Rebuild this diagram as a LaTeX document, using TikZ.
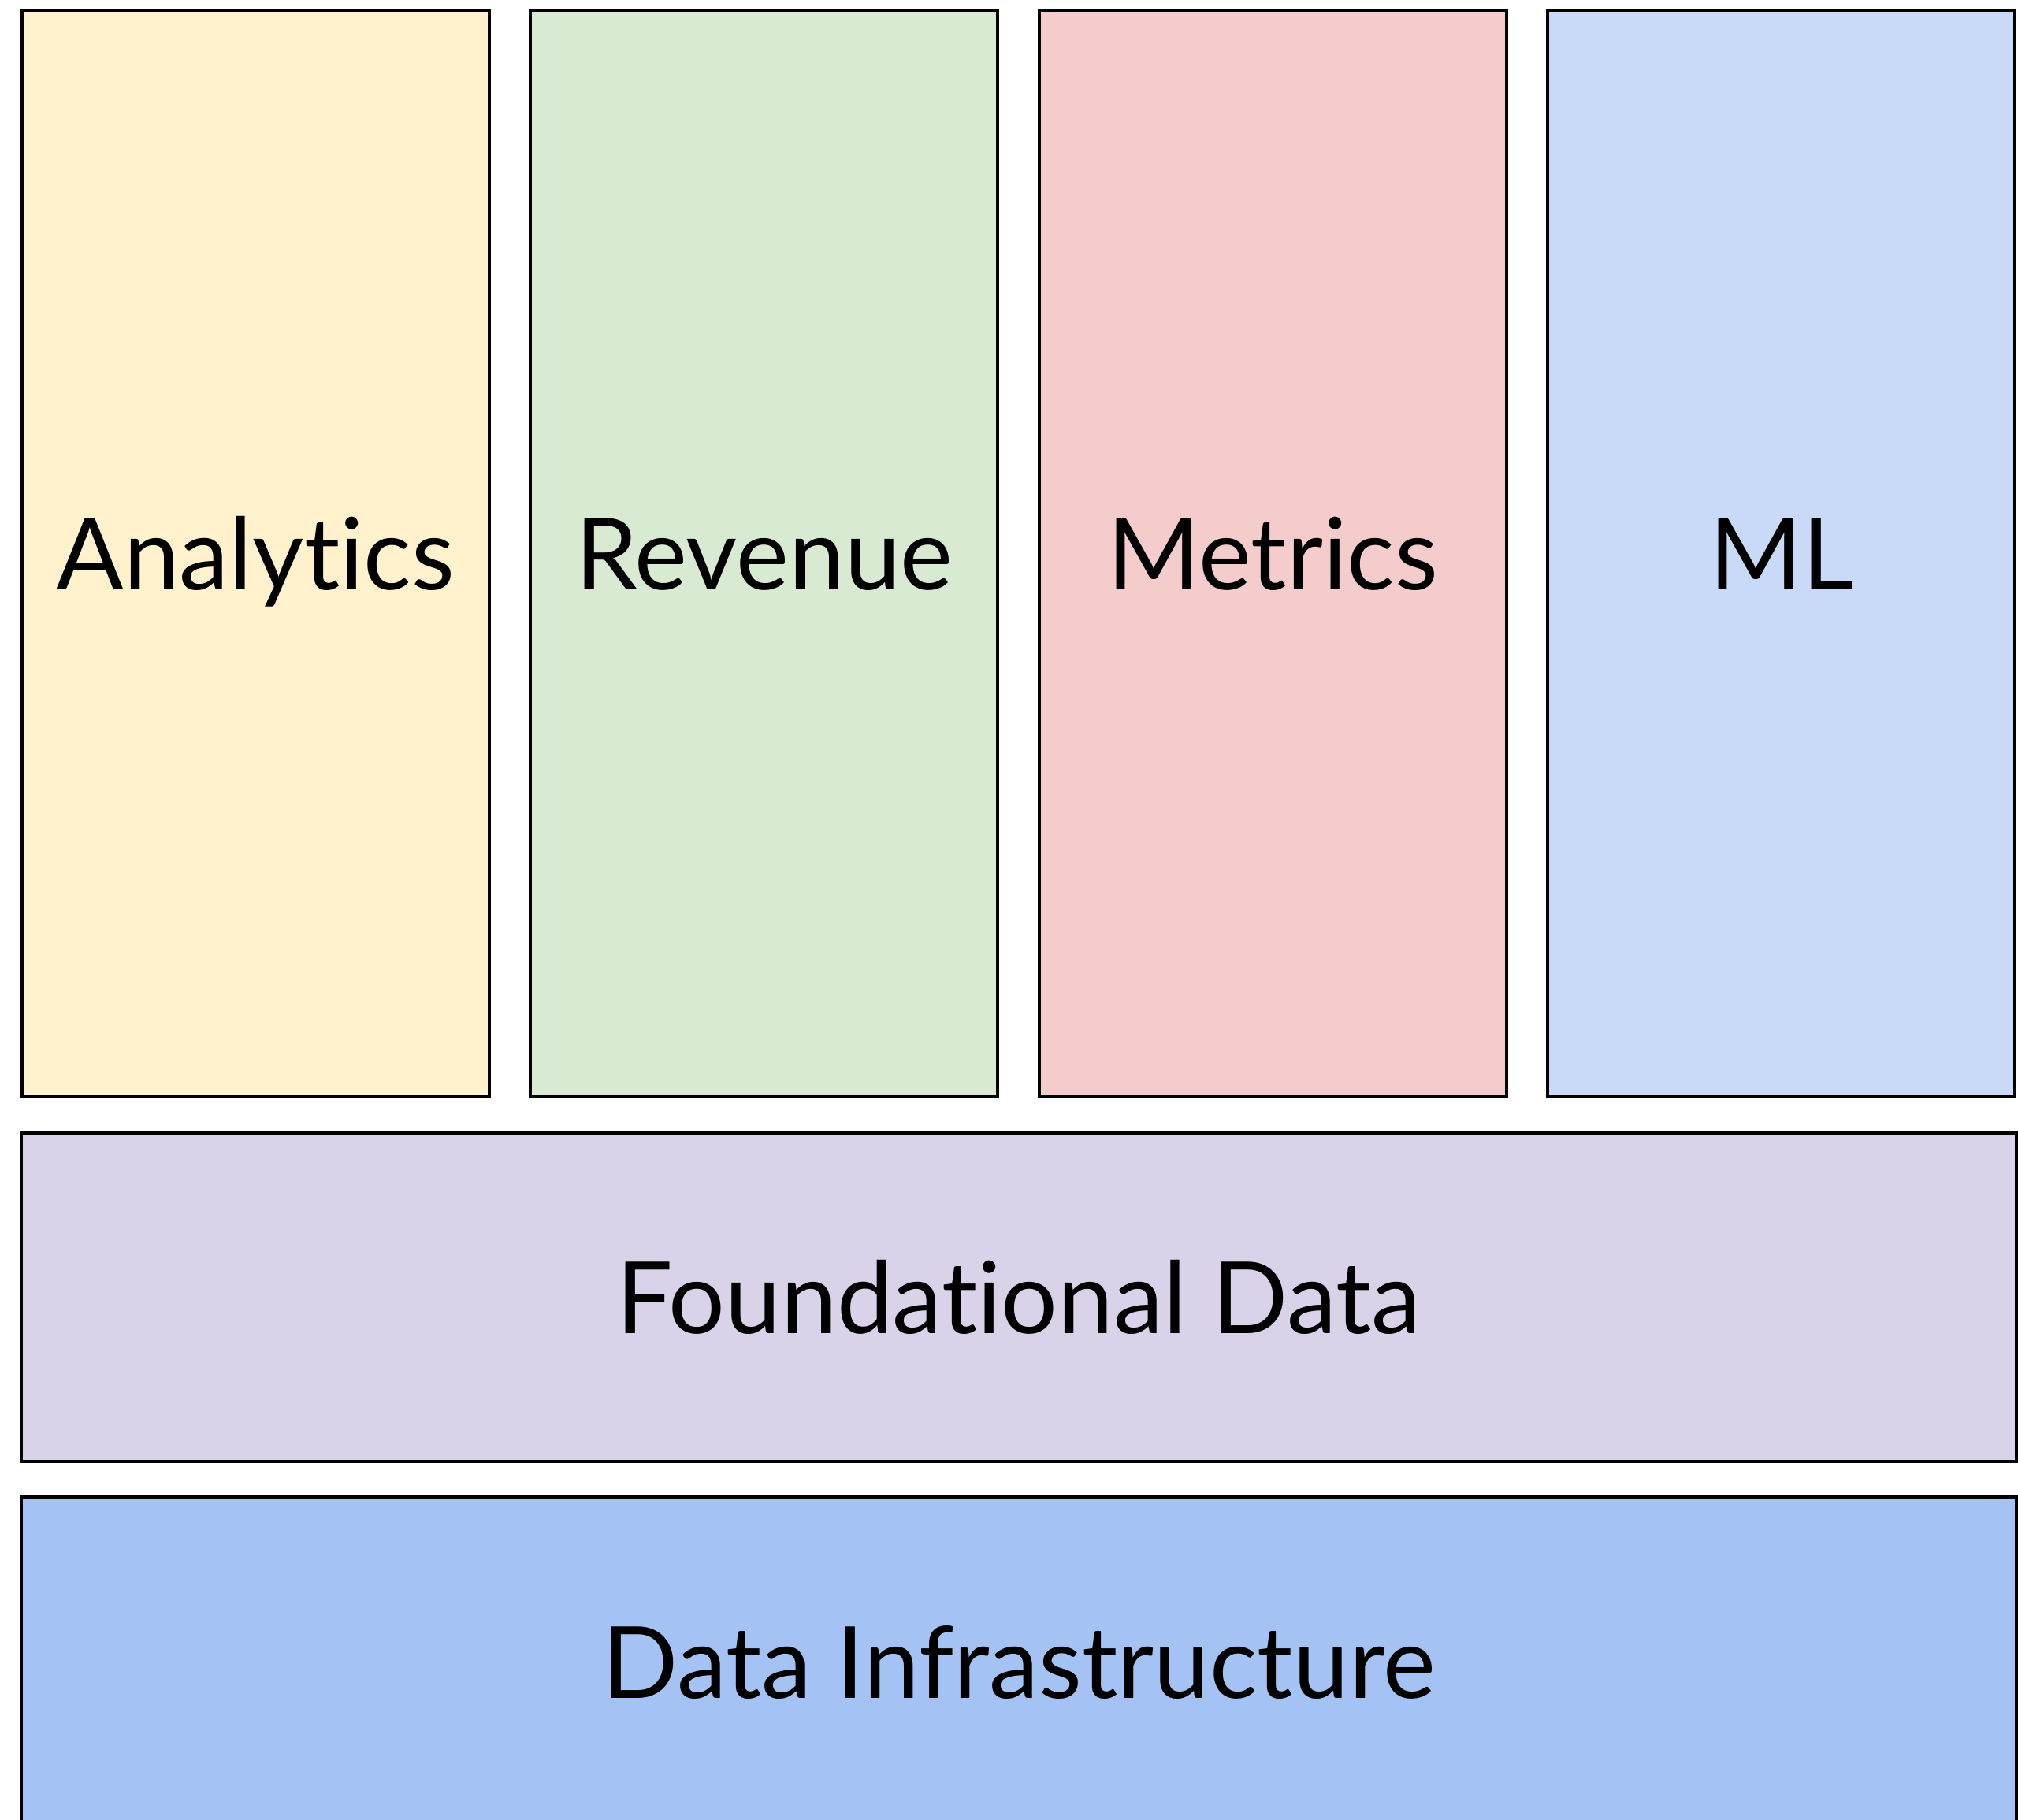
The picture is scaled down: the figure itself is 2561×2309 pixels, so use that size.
\documentclass[tikz,border=0pt]{standalone}
\usepackage{fontspec}
\setmainfont{Lato}[Ligatures=NoCommon]
\usetikzlibrary{positioning}

\definecolor{analyticsYellow}{HTML}{FFF2CC}
\definecolor{revenueGreen}{HTML}{D9EAD3}
\definecolor{metricsRed}{HTML}{F4CCCC}
\definecolor{mlBlue}{HTML}{C9DAF8}
\definecolor{foundPurple}{HTML}{D9D2E9}
\definecolor{infraBlue}{HTML}{A4C2F4}

\tikzset{
  layer/.style={shape=rectangle,draw=black,line width=1.15pt,inner sep=0pt,outer sep=0pt},
  column/.style={layer,minimum width=5.925cm,minimum height=13.78cm},
  band/.style={layer,minimum width=25.3cm},
  lbl/.style={anchor=base,inner sep=0pt,font=\fontsize{36pt}{40pt}\selectfont}
}

\begin{document}
\begin{tikzpicture}[x=0.01cm,y=-0.01cm]
    \clip (0,0) rectangle (2561,2309);
    % the four columns
    \node[column,fill=analyticsYellow] (analytics) at (324.25,702.5) {};
    \node[column,fill=revenueGreen] (revenue) at (969.75,702.5) {};
    \node[column,fill=metricsRed] (metrics) at (1615.25,702.5) {};
    \node[column,fill=mlBlue] (ml) at (2260.75,702.5) {};
    % the two layers below
    \node[band,fill=foundPurple,minimum height=4.165cm] (found) at (1293,1646.25) {};
    \node[band,fill=infraBlue,minimum height=6cm] (infra) at (1293,2200.5) {};
    % labels
    \node[lbl] (analyticsText) at (324.25,748) {Analytics};
    \node[lbl] (revenueText) at (969.75,748) {Revenue};
    \node[lbl] (metricsText) at (1615.25,748) {Metrics};
    \node[lbl] (mlText) at (2260.75,748) {ML};
    \node[lbl] (foundText) at (1293,1692) {Foundational Data};
    \node[lbl] (infraText) at (1293,2155) {Data Infrastructure};
\end{tikzpicture}
\end{document}
